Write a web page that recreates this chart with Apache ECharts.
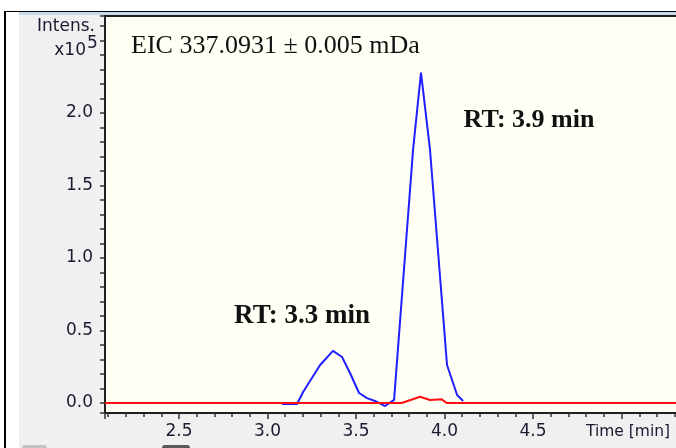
<!DOCTYPE html>
<html>
<head>
<meta charset="utf-8">
<script src="https://cdn.jsdelivr.net/npm/echarts@6/dist/echarts.min.js"></script>
<style>
  html, body { margin: 0; padding: 0; background: #ffffff; }
  #wrap { position: relative; width: 676px; height: 448px; overflow: hidden; }
  .deco { position: absolute; }
  /* chart is wider than the window so the plot runs off the right edge */
  #chart { position: absolute; left: 0; top: 0; width: 700px; height: 448px; }
</style>
</head>
<body>
<div id="wrap">
  <!-- window frame behind the chart -->
  <div class="deco" style="left:19px;top:12px;width:657px;height:436px;background:#f0f0f0;"></div>
  <div class="deco" style="left:19px;top:12px;width:657px;height:3px;background:#c6daea;"></div>
  <div class="deco" style="left:4px;top:11px;width:672px;height:1px;background:#000;"></div>
  <div class="deco" style="left:4px;top:11px;width:2px;height:437px;background:#000;"></div>
  <div class="deco" style="left:22px;top:445px;width:25px;height:6px;border-radius:3px;background:#c4c4c4;"></div>
  <div class="deco" style="left:162px;top:445px;width:28px;height:6px;border-radius:3px;background:#5a5a5a;"></div>
  <div id="chart"></div>
</div>
<script>
// EIC trace (blue)
const eicTime = [3.082, 3.167, 3.201, 3.297, 3.370, 3.421, 3.466, 3.517, 3.562, 3.607, 3.664, 3.715,
                 3.822, 3.867, 3.918, 4.014, 4.071, 4.105];
const eicIntensity = [-0.007, -0.007, 0.076, 0.262, 0.359, 0.317, 0.207, 0.069, 0.034, 0.014, -0.021, 0.021,
                      1.745, 2.278, 1.745, 0.262, 0.055, 0.014];

// second trace (red), almost flat
const refTime = [2.082, 3.758, 3.862, 3.918, 3.984, 4.012, 5.45];
const refIntensity = [0, 0, 0.043, 0.021, 0.025, 0, 0];

// axis ranges and labels
const xMin = 2.082;
const xMax = 5.443;
const yMin = -0.069;
const yMax = 2.669;
const xTickLabels = ['2.5', '3.0', '3.5', '4.0', '4.5'];
const yTickLabels = ['0.0', '0.5', '1.0', '1.5', '2.0'];

const eicText = 'EIC 337.0931 \u00b1 0.005 mDa';
const peakLabels = ['RT: 3.3 min', 'RT: 3.9 min'];

const toPairs = (xs, ys) => xs.map((x, i) => [x, ys[i]]);

const axisFont = 'DejaVu Sans';
const axisColor = '#1a1a30';

// only show the labels that the instrument software prints
const tickFormatter = labels => v => {
    const s = v.toFixed(1);
    return labels.includes(s) && Math.abs(v - Number(s)) < 1e-6 ? s : '';
};

const chart = echarts.init(document.getElementById('chart'), null, { renderer: 'canvas' });

const option = {
    animation: false,
    backgroundColor: 'transparent',
    grid: {
        left: 105,
        top: 16,
        right: 0,
        bottom: 35,
        show: true,
        backgroundColor: '#fffff5',
        borderColor: '#1e1e1e',
        borderWidth: 2
    },
    xAxis: {
        type: 'value',
        min: xMin,
        max: xMax,
        splitNumber: 7,
        axisLine: { show: true, onZero: false, lineStyle: { color: '#1e1e1e', width: 2 } },
        axisTick: { show: true, length: 6, lineStyle: { color: '#333', width: 1.5 } },
        minorTick: { show: true, splitNumber: 5, length: 4, lineStyle: { color: '#333', width: 1.5 } },
        splitLine: { show: false },
        axisLabel: {
            margin: 10,
            fontFamily: axisFont,
            fontSize: 17,
            color: axisColor,
            showMinLabel: false,
            showMaxLabel: false,
            formatter: tickFormatter(xTickLabels)
        }
    },
    yAxis: {
        type: 'value',
        min: yMin,
        max: yMax,
        splitNumber: 5,
        axisLine: { show: true, onZero: false, lineStyle: { color: '#1e1e1e', width: 2 } },
        axisTick: { show: true, length: 5, lineStyle: { color: '#333', width: 1.5 } },
        minorTick: { show: true, splitNumber: 5, length: 5, lineStyle: { color: '#333', width: 1.5 } },
        splitLine: { show: false },
        axisLabel: {
            margin: 12,
            fontFamily: axisFont,
            fontSize: 17,
            color: axisColor,
            showMinLabel: false,
            showMaxLabel: false,
            formatter: tickFormatter(yTickLabels)
        }
    },
    series: [
        {
            name: 'EIC',
            type: 'line',
            data: toPairs(eicTime, eicIntensity),
            symbol: 'none',
            lineStyle: { color: '#1f1fff', width: 2 },
            z: 2
        },
        {
            name: 'ref',
            type: 'line',
            data: toPairs(refTime, refIntensity),
            symbol: 'none',
            lineStyle: { color: '#ff1010', width: 2 },
            z: 3
        }
    ],
    graphic: [
        {
            type: 'text', left: 131, top: 33, z: 10,
            style: { text: eicText, font: '26px "Liberation Serif"', fill: '#111' }
        },
        {
            type: 'text', x: 302, y: 316, z: 10,
            style: { text: peakLabels[0], font: 'bold 27px "Liberation Serif"', fill: '#111', align: 'center', verticalAlign: 'middle' }
        },
        {
            type: 'text', x: 529, y: 120, z: 10,
            style: { text: peakLabels[1], font: 'bold 26px "Liberation Serif"', fill: '#111', align: 'center', verticalAlign: 'middle' }
        },
        {
            type: 'text', x: 95, y: 27, z: 10,
            style: { text: 'Intens.', font: '17px "DejaVu Sans"', fill: axisColor, align: 'right', verticalAlign: 'middle' }
        },
        {
            type: 'text', x: 86, y: 51, z: 10,
            style: { text: 'x10', font: '17px "DejaVu Sans"', fill: axisColor, align: 'right', verticalAlign: 'middle' }
        },
        {
            type: 'text', x: 87, y: 44, z: 10,
            style: { text: '5', font: '17px "DejaVu Sans"', fill: axisColor, align: 'left', verticalAlign: 'middle' }
        },
        {
            type: 'text', x: 628, y: 432, z: 10,
            style: { text: 'Time [min]', font: '15.5px "DejaVu Sans"', fill: axisColor, align: 'center', verticalAlign: 'middle' }
        }
    ]
};

chart.setOption(option);
</script>
</body>
</html>
